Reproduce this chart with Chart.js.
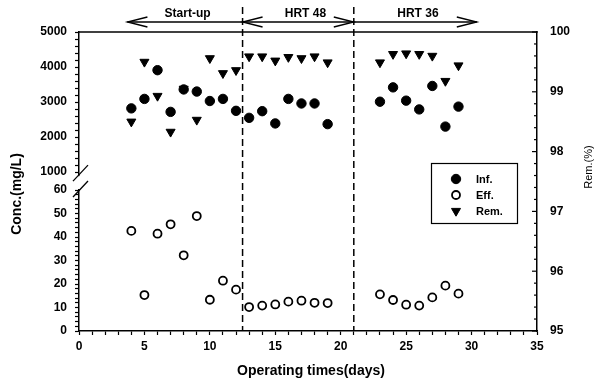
<!DOCTYPE html>
<html>
<head>
<meta charset="utf-8">
<script src="https://cdn.jsdelivr.net/npm/chart.js@4.4.0/dist/chart.umd.min.js"></script>
<style>
  html, body { margin: 0; padding: 0; background: #fff; }
  #wrap { width: 595px; height: 385px; }
</style>
</head>
<body>
<div id="wrap"><canvas id="c" width="595" height="385"></canvas></div>
<script>
// Operating day of each sample
const days = [4, 5, 6, 7, 8, 9, 10, 11, 12, 13, 14, 15, 16, 17, 18, 19, 23, 24, 25, 26, 27, 28, 29];
// Influent concentration (mg/L)
const influent = [2820, 3090, 3910, 2720, 3360, 3300, 3030, 3090, 2750, 2550, 2740, 2390, 3090, 2960, 2960, 2370,
                  3010, 3420, 3040, 2790, 3460, 2300, 2870];
// Effluent concentration (mg/L)
const effluent = [42.6, 15.3, 41.4, 45.4, 32.2, 48.9, 13.3, 21.4, 17.6, 10.2, 10.8, 11.3, 12.5, 12.9, 12.0, 11.9,
                  15.6, 13.2, 11.2, 10.8, 14.3, 19.3, 15.9];
// Removal efficiency (%)
const removal = [98.50, 99.50, 98.93, 98.33, 99.05, 98.53, 99.56, 99.31, 99.36, 99.59, 99.59, 99.52, 99.58, 99.56,
                 99.59, 99.49, 99.49, 99.63, 99.64, 99.63, 99.60, 99.18, 99.44];

// Axis tick labels
const dayTicks = [0, 5, 10, 15, 20, 25, 30, 35];
const concUpperTicks = [1000, 2000, 3000, 4000, 5000];
const concLowerTicks = [0, 10, 20, 30, 40, 50, 60];
const remTicks = [95, 96, 97, 98, 99, 100];

// Operating phases (day boundaries and header arrows)
const phaseBounds = [12.5, 21];
const phaseArrows = [
  { text: 'Start-up', from: 12.5, to: 3.7, textAt: 8.3, headFrom: false, headTo: true },
  { text: 'HRT 48', from: 12.5, to: 21, textAt: 17.3, headFrom: true, headTo: true },
  { text: 'HRT 36', from: 21, to: 30.4, textAt: 25.9, headFrom: false, headTo: true }
];

const FONT = '"Liberation Sans", Arial, sans-serif';
const INK = '#000';

function stepTicks(lo, hi, step) {
  const out = [];
  const n = Math.round((hi - lo) / step);
  for (let i = 0; i <= n; i++) out.push({ value: +(lo + i * step).toFixed(6) });
  return out;
}

const tickFont = { family: FONT, size: 12, weight: 'bold' };

const seriesInf = days.map((d, i) => ({ x: d, y: influent[i] }));
const seriesEff = days.map((d, i) => ({ x: d, y: effluent[i] }));
const seriesRem = days.map((d, i) => ({ x: d, y: removal[i] }));

// Drawing extras: frame top, inward right ticks, axis break, phase markers, legend, titles
const decor = {
  id: 'decor',
  afterDraw(chart) {
    const ctx = chart.ctx;
    const area = chart.chartArea;
    const xs = chart.scales.x, yTop = chart.scales.yTop, yBot = chart.scales.yBot, y2 = chart.scales.y2;
    ctx.save();
    ctx.strokeStyle = INK;
    ctx.fillStyle = INK;

    // top frame line
    ctx.lineWidth = 1.5;
    ctx.beginPath();
    ctx.moveTo(area.left - 0.75, area.top);
    ctx.lineTo(area.right + 0.75, area.top);
    ctx.stroke();

    // right axis ticks pointing into the plot
    ctx.lineWidth = 1.2;
    y2.ticks.forEach(t => {
      const py = y2.getPixelForValue(t.value);
      const major = Math.abs(t.value - Math.round(t.value)) < 1e-6;
      const len = major ? 5 : 3;
      ctx.beginPath();
      ctx.moveTo(area.right - len, py);
      ctx.lineTo(area.right, py);
      ctx.stroke();
    });

    // axis break on the left axis
    const ax = area.left;
    const yA = yTop.getPixelForValue(concUpperTicks[0]) + 2;
    const yB = yBot.getPixelForValue(concLowerTicks[concLowerTicks.length - 1]);
    if (yB > yA) {
      ctx.fillStyle = '#fff';
      ctx.fillRect(ax - 3, yA + 2, 6, yB - yA - 3);
    }
    ctx.fillStyle = INK;
    ctx.lineWidth = 1.3;
    [yA, yB].forEach(cy => {
      ctx.beginPath();
      ctx.moveTo(ax - 6, cy + 7);
      ctx.lineTo(ax + 9, cy - 9);
      ctx.stroke();
    });

    // phase boundaries
    ctx.lineWidth = 1.5;
    ctx.setLineDash([7, 4]);
    phaseBounds.forEach(d => {
      const px = xs.getPixelForValue(d);
      ctx.beginPath();
      ctx.moveTo(px, 7);
      ctx.lineTo(px, area.bottom);
      ctx.stroke();
    });
    ctx.setLineDash([]);

    // phase arrows and captions
    const ay = 22;
    const head = (tipX, dir) => {
      ctx.beginPath();
      ctx.moveTo(tipX + dir * 20, ay - 5);
      ctx.lineTo(tipX, ay);
      ctx.lineTo(tipX + dir * 20, ay + 5);
      ctx.stroke();
    };
    ctx.lineWidth = 1.3;
    ctx.font = 'bold 12px ' + FONT;
    ctx.textAlign = 'center';
    ctx.textBaseline = 'middle';
    phaseArrows.forEach(a => {
      const p0 = xs.getPixelForValue(a.from), p1 = xs.getPixelForValue(a.to);
      ctx.beginPath();
      ctx.moveTo(p0, ay);
      ctx.lineTo(p1, ay);
      ctx.stroke();
      const dir = Math.sign(p1 - p0);
      if (a.headTo) head(p1, -dir);
      if (a.headFrom) head(p0, dir);
      ctx.fillText(a.text, xs.getPixelForValue(a.textAt), 14);
    });

    // legend
    ctx.lineWidth = 1.2;
    ctx.strokeRect(431.5, 163.5, 86, 60);
    const entries = chart.data.datasets;
    const rows = [179, 195, 211];
    ctx.font = 'bold 11px ' + FONT;
    ctx.textAlign = 'left';
    entries.forEach((ds, i) => {
      ctx.fillStyle = ds.pointBackgroundColor;
      ctx.strokeStyle = ds.pointBorderColor;
      ctx.lineWidth = ds.pointBorderWidth;
      Chart.helpers.drawPoint(ctx, {
        pointStyle: ds.pointStyle, rotation: ds.pointRotation || 0,
        radius: ds.pointRadius, borderWidth: ds.pointBorderWidth
      }, 456, rows[i]);
      ctx.fillStyle = INK;
      ctx.fillText(ds.label, 476, rows[i] + 0.5);
    });

    // axis titles
    ctx.fillStyle = INK;
    ctx.textAlign = 'center';
    ctx.textBaseline = 'middle';
    ctx.font = 'bold 14px ' + FONT;
    ctx.fillText('Operating times(days)', 311, 371);
    ctx.save();
    ctx.translate(17, 194);
    ctx.rotate(-Math.PI / 2);
    ctx.fillText('Conc.(mg/L)', 0, 0);
    ctx.restore();
    ctx.save();
    ctx.translate(589, 167);
    ctx.rotate(-Math.PI / 2);
    ctx.font = '11px ' + FONT;
    ctx.fillText('Rem.(%)', 0, 0);
    ctx.restore();

    ctx.restore();
  }
};

const axisGrid = { drawOnChartArea: false, tickLength: 4, color: INK, tickColor: INK, tickWidth: 1.2 };
const axisBorder = { color: INK, width: 1.5 };

new Chart(document.getElementById('c'), {
  type: 'scatter',
  data: {
    datasets: [
      {
        label: 'Inf.', data: seriesInf, xAxisID: 'x', yAxisID: 'yTop',
        pointStyle: 'circle', pointRadius: 4.7, pointBorderWidth: 1,
        pointBackgroundColor: INK, pointBorderColor: INK,
        backgroundColor: INK, borderColor: INK
      },
      {
        label: 'Eff.', data: seriesEff, xAxisID: 'x', yAxisID: 'yBot',
        pointStyle: 'circle', pointRadius: 4, pointBorderWidth: 1.8,
        pointBackgroundColor: '#fff', pointBorderColor: INK,
        backgroundColor: '#fff', borderColor: INK
      },
      {
        label: 'Rem.', data: seriesRem, xAxisID: 'x', yAxisID: 'y2',
        pointStyle: 'triangle', pointRotation: 180, pointRadius: 5.2, pointBorderWidth: 1,
        pointBackgroundColor: INK, pointBorderColor: INK,
        backgroundColor: INK, borderColor: INK
      }
    ]
  },
  options: {
    responsive: false,
    animation: false,
    layout: { padding: { top: 32, left: 0, right: 0, bottom: 0 } },
    plugins: { legend: { display: false }, tooltip: { enabled: false } },
    scales: {
      x: {
        type: 'linear', position: 'bottom', min: 0, max: 35,
        afterBuildTicks: s => { s.ticks = stepTicks(0, 35, 1); },
        afterFit: s => { s.height = 54; },
        ticks: {
          autoSkip: false, maxRotation: 0, color: INK, font: tickFont, padding: 4,
          callback: v => dayTicks.includes(v) ? String(v) : ''
        },
        grid: axisGrid, border: axisBorder
      },
      yBot: {
        type: 'linear', position: 'left', stack: 'conc', stackWeight: 141,
        min: 0, max: 60,
        afterBuildTicks: s => { s.ticks = stepTicks(0, 60, 2); },
        afterFit: s => { s.width = 79; },
        ticks: {
          autoSkip: false, color: INK, font: tickFont, padding: 8,
          callback: v => concLowerTicks.includes(v) ? String(v) : ''
        },
        grid: axisGrid, border: axisBorder
      },
      yTop: {
        type: 'linear', position: 'left', stack: 'conc', stackWeight: 158,
        min: 490, max: 5000,
        afterBuildTicks: s => { s.ticks = stepTicks(1000, 5000, 200); },
        afterFit: s => { s.width = 79; },
        ticks: {
          autoSkip: false, color: INK, font: tickFont, padding: 8,
          callback: v => concUpperTicks.includes(v) ? String(v) : ''
        },
        grid: axisGrid, border: axisBorder
      },
      y2: {
        type: 'linear', position: 'right', min: 95, max: 100,
        afterBuildTicks: s => { s.ticks = stepTicks(95, 100, 0.2); },
        afterFit: s => { s.width = 58; },
        ticks: {
          autoSkip: false, color: INK, font: tickFont, padding: 13,
          callback: v => remTicks.includes(v) ? String(v) : ''
        },
        grid: { display: false, drawTicks: false },
        border: axisBorder
      }
    }
  },
  plugins: [decor]
});
</script>
</body>
</html>
